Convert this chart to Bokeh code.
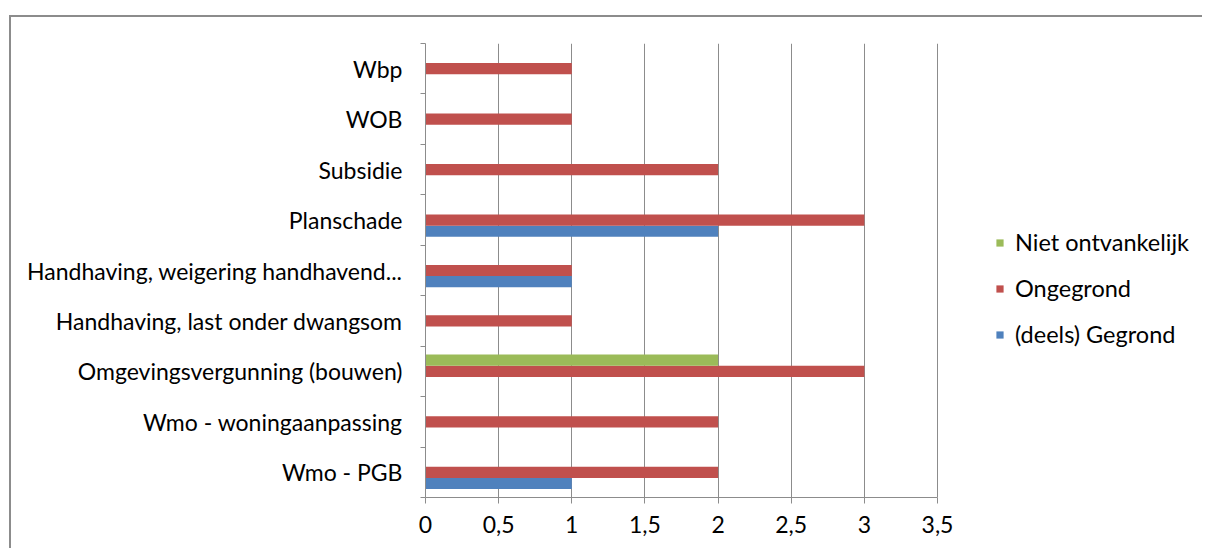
from bokeh.plotting import figure
from bokeh.models import (ColumnDataSource, Range1d, FixedTicker, LinearAxis,
                          CustomJSTickFormatter, Legend, LegendItem)
from bokeh.embed import file_html
from bokeh.resources import INLINE

# ---- data (bottom to top) ----
categories = ["Wmo - PGB", "Wmo - woningaanpassing", "Omgevingsvergunning (bouwen)",
              "Handhaving, last onder dwangsom", "Handhaving, weigering handhavend...",
              "Planschade", "Subsidie", "WOB", "Wbp"]
gegrond = [1, 0, 0, 0, 1, 2, 0, 0, 0]
ongegrond = [2, 2, 3, 1, 1, 3, 2, 1, 1]
niet_ontvankelijk = [0, 0, 2, 0, 0, 0, 0, 0, 0]
series_names = ["(deels) Gegrond", "Ongegrond", "Niet ontvankelijk"]
x_ticks = [0, 0.5, 1, 1.5, 2, 2.5, 3, 3.5]
x_max = 3.5

BLUE, RED, GREEN = "#4F81BD", "#C0504D", "#9BBB59"
GRAY = "#8c8c8c"
FONT = "Lato"

# layout (pixels)
W, H = 1193, 533
LEFT, TOP, BOTTOM = 414, 26, 53
AXIS_PX = 512          # pixel length of the 0..3.5 value axis
frame_w = W - LEFT

n = len(categories)
bw = 0.222
centers = [i + 0.5 for i in range(n)]
src = ColumnDataSource(dict(cat=categories, pos=centers,
                            pos_blue=[c - bw for c in centers],
                            pos_green=[c + bw for c in centers],
                            gegrond=gegrond, ongegrond=ongegrond, niet=niet_ontvankelijk))

# the frame also holds the legend area; the value axis itself is bounded to 0..3.5
p = figure(width=W, height=H, y_range=Range1d(0, n),
           x_range=Range1d(0, x_max * frame_w / AXIS_PX),
           output_backend="svg", toolbar_location=None, y_axis_location=None,
           min_border_left=LEFT, min_border_right=0, min_border_top=TOP, min_border_bottom=BOTTOM)
p.outline_line_color = None
p.background_fill_color = "white"
p.border_fill_color = "white"
p.styles = {"margin-left": "9px", "margin-top": "15px",
            "border-left": "2px solid #8c8c8c", "border-top": "2px solid #8c8c8c"}

r_blue = p.hbar(y="pos_blue", right="gegrond", height=bw, color=BLUE, line_color=None, source=src)
r_red = p.hbar(y="pos", right="ongegrond", height=bw, color=RED, line_color=None, source=src)
r_green = p.hbar(y="pos_green", right="niet", height=bw, color=GREEN, line_color=None, source=src)

# x axis
xt = FixedTicker(ticks=x_ticks)
xa = p.xaxis[0]
xa.ticker = xt
xa.bounds = (0, x_max)
xa.formatter = CustomJSTickFormatter(code="return tick.toString().replace('.', ',');")
xa.axis_line_color = GRAY
xa.major_tick_line_color = GRAY
xa.major_tick_out = 6
xa.major_tick_in = 0
xa.minor_tick_line_color = None
xa.major_label_text_font = FONT
xa.major_label_text_font_size = "23px"
xa.major_label_text_color = "black"
xa.major_label_standoff = 12
p.xgrid.ticker = xt
p.xgrid.grid_line_color = GRAY
p.ygrid.grid_line_color = None

# category boundary ticks (Excel style)
tick_axis = LinearAxis(ticker=FixedTicker(ticks=list(range(n + 1))))
tick_axis.axis_line_color = GRAY
tick_axis.major_tick_line_color = GRAY
tick_axis.major_tick_out = 5
tick_axis.major_tick_in = 0
tick_axis.minor_tick_line_color = None
tick_axis.major_label_text_font_size = "0px"
tick_axis.major_label_standoff = 0
tick_axis.formatter = CustomJSTickFormatter(code="return '';")
p.add_layout(tick_axis, "left")

# category labels
cat_axis = LinearAxis(ticker=FixedTicker(ticks=centers),
                      formatter=CustomJSTickFormatter(args=dict(names=categories),
                                                      code="return names[Math.floor(tick)];"))
cat_axis.axis_line_color = None
cat_axis.major_tick_line_color = None
cat_axis.minor_tick_line_color = None
cat_axis.major_label_text_font = FONT
cat_axis.major_label_text_font_size = "23px"
cat_axis.major_label_text_color = "black"
cat_axis.major_label_standoff = 12
p.add_layout(cat_axis, "left")

legend = Legend(items=[LegendItem(label=series_names[2], renderers=[r_green]),
                       LegendItem(label=series_names[1], renderers=[r_red]),
                       LegendItem(label=series_names[0], renderers=[r_blue])],
                location=(570, 149))
legend.border_line_color = None
legend.background_fill_alpha = 0
legend.label_text_font = FONT
legend.label_text_font_size = "23.5px"
legend.label_text_color = "black"
legend.glyph_width = 9
legend.glyph_height = 9
legend.label_standoff = 11
legend.spacing = 18
legend.padding = 0
legend.margin = 0
p.add_layout(legend, "center")

open("out.html", "w").write(file_html(p, INLINE))
